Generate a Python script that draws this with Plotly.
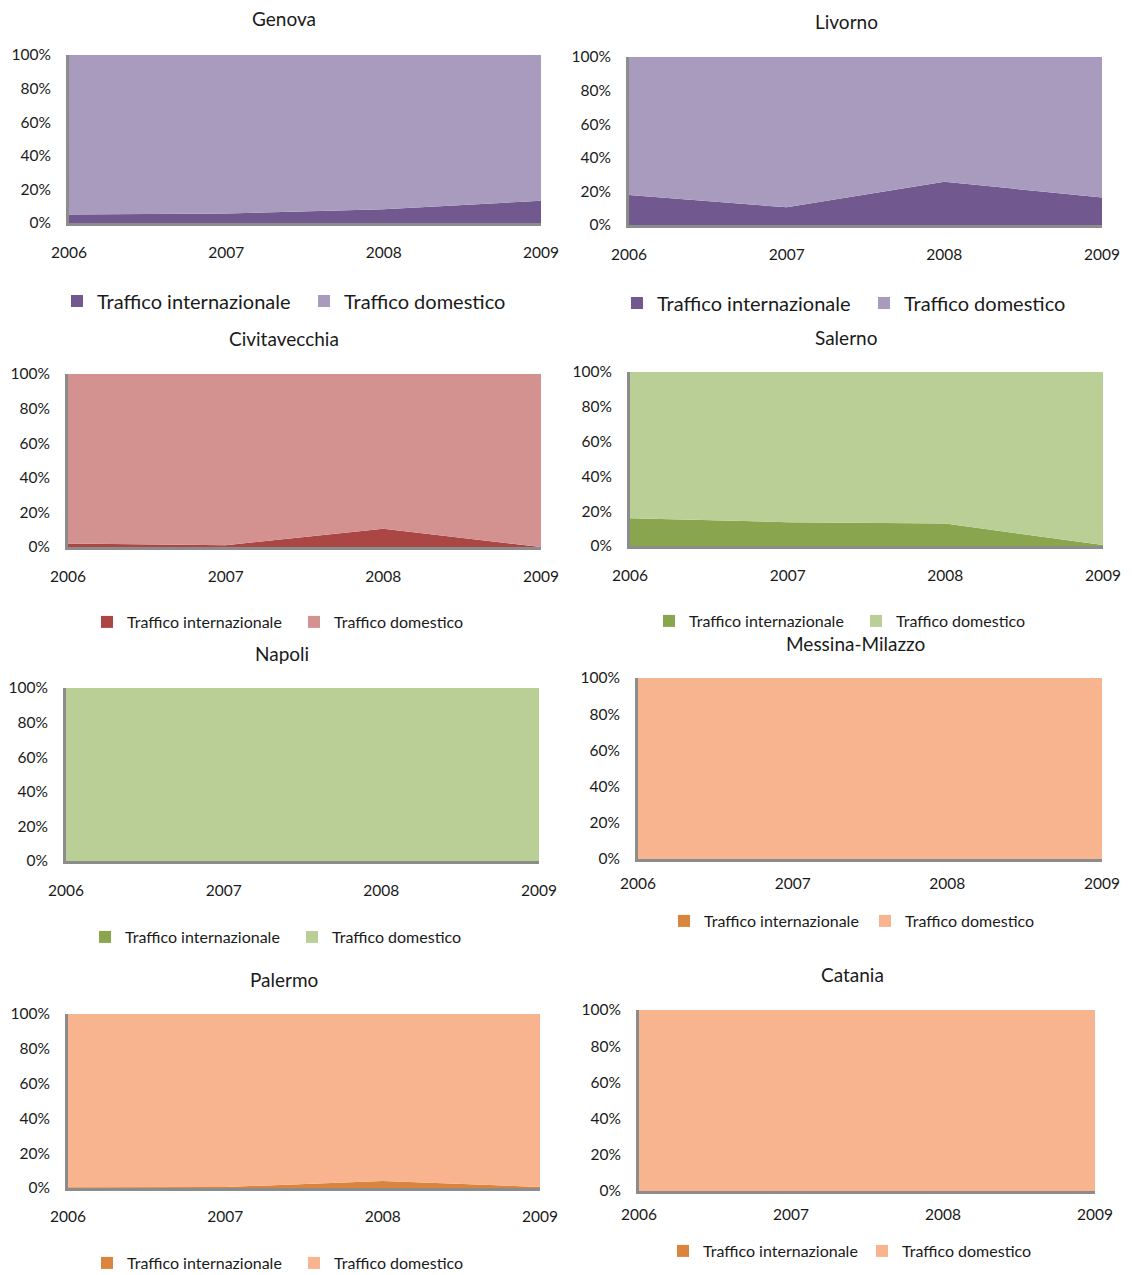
import plotly.graph_objects as go

# ---------------- data ----------------
years = [2006, 2007, 2008, 2009]
series_names = ["Traffico internazionale", "Traffico domestico"]
ports = ["Genova", "Livorno", "Civitavecchia", "Salerno",
         "Napoli", "Messina-Milazzo", "Palermo", "Catania"]

genova_int = [5.0, 5.6, 8.2, 13.2]
genova_dom = [95.0, 94.4, 91.8, 86.8]
livorno_int = [17.9, 10.5, 25.7, 16.4]
livorno_dom = [82.1, 89.5, 74.3, 83.6]
civitavecchia_int = [2.0, 1.0, 10.6, 0.0]
civitavecchia_dom = [98.0, 99.0, 89.4, 100.0]
salerno_int = [15.9, 13.7, 12.9, 0.6]
salerno_dom = [84.1, 86.3, 87.1, 99.4]
napoli_int = [0.0, 0.0, 0.0, 0.0]
napoli_dom = [100.0, 100.0, 100.0, 100.0]
messina_int = [0.0, 0.0, 0.0, 0.0]
messina_dom = [100.0, 100.0, 100.0, 100.0]
palermo_int = [0.4, 0.6, 4.0, 0.6]
palermo_dom = [99.6, 99.4, 96.0, 99.4]
catania_int = [0.0, 0.0, 0.0, 0.0]
catania_dom = [100.0, 100.0, 100.0, 100.0]

y_tick_values = [0, 20, 40, 60, 80, 100]
y_tick_labels = ["0%", "20%", "40%", "60%", "80%", "100%"]

data_int = [genova_int, livorno_int, civitavecchia_int, salerno_int,
            napoli_int, messina_int, palermo_int, catania_int]
data_dom = [genova_dom, livorno_dom, civitavecchia_dom, salerno_dom,
            napoli_dom, messina_dom, palermo_dom, catania_dom]

# ---------------- styles / layout ----------------
W, H = 1132, 1275
purple = ("#71588F", "#A99BBD")
red = ("#AA4643", "#D39190")
green = ("#89A54E", "#BACF96")
orange = ("#DB843D", "#F8B48F")
palette = [purple, purple, red, green, green, orange, orange, orange]

# plot box (x0, x1, y_top, y_bottom), title centre, x-label centre y,
# legend: first swatch centre x, centre y, swatch spacing, font size
panels = [
    dict(box=(69, 541, 55, 223), title=(284, 19), xl=252, leg=(77, 301, 247), lf=20),
    dict(box=(629, 1102, 57, 225), title=(846, 21), xl=254, leg=(637, 303, 247), lf=20),
    dict(box=(68, 541, 374, 547), title=(284, 338), xl=576, leg=(107, 622, 207), lf=16),
    dict(box=(630, 1103, 372, 546), title=(846, 337), xl=575, leg=(669, 621, 207), lf=16),
    dict(box=(66, 539, 688, 861), title=(282, 653), xl=890, leg=(105, 937, 207), lf=16),
    dict(box=(638, 1102, 678, 859), title=(855, 643), xl=883, leg=(684, 921, 201), lf=16),
    dict(box=(68, 540, 1014, 1188), title=(284, 979), xl=1216, leg=(107, 1263, 207), lf=16),
    dict(box=(639, 1095, 1010, 1191), title=(852, 975), xl=1214, leg=(683, 1251, 199), lf=16),
]

FONT = "Lato"
TEXT = "#1a1a1a"
AXIS = "#8C8C8C"

fig = go.Figure()
annotations = []
layout_upd = {}

for i, (port, p) in enumerate(zip(ports, panels)):
    n = i + 1
    xa = "x" if n == 1 else f"x{n}"
    ya = "y" if n == 1 else f"y{n}"
    leg = "legend" if n == 1 else f"legend{n}"
    c_int, c_dom = palette[i]
    lx, ly, lsp = p["leg"]
    for name, vals, col in ((series_names[0], data_int[i], c_int),
                            (series_names[1], data_dom[i], c_dom)):
        fig.add_trace(go.Scatter(
            x=years, y=vals, xaxis=xa, yaxis=ya, mode="lines",
            line=dict(width=0, color=col), fillcolor=col,
            stackgroup=f"s{n}", showlegend=False, hoverinfo="skip",
            legend=leg))
        # legend swatch
        fig.add_trace(go.Scatter(
            x=[None], y=[None], xaxis=xa, yaxis=ya, mode="markers",
            marker=dict(symbol="square", size=12, color=col),
            name=name, legend=leg, showlegend=True,
            legendwidth=lsp - 45))

    x0, x1, y0, y1 = p["box"]
    xk = "xaxis" if n == 1 else f"xaxis{n}"
    yk = "yaxis" if n == 1 else f"yaxis{n}"
    standoff = p["xl"] - y1 - 16
    layout_upd[xk] = dict(
        domain=[x0 / W, x1 / W], anchor=ya, range=[years[0], years[-1]],
        tickmode="array", tickvals=years, ticktext=[str(v) for v in years],
        showgrid=False, zeroline=False, showline=True, linecolor=AXIS, linewidth=3,
        ticks="", ticklabelstandoff=standoff, automargin=False,
        tickfont=dict(family=FONT, size=15.5, color=TEXT), fixedrange=True)
    layout_upd[yk] = dict(
        domain=[1 - y1 / H, 1 - y0 / H], anchor=xa, range=[0, 100],
        tickmode="array", tickvals=y_tick_values, ticktext=y_tick_labels,
        showgrid=False, zeroline=False, showline=True, linecolor=AXIS, linewidth=3,
        ticks="", ticklabelstandoff=12, automargin=False,
        tickfont=dict(family=FONT, size=15.5, color=TEXT), fixedrange=True)
    layout_upd[leg] = dict(
        orientation="h", x=(lx - 20) / W, y=1 - ly / H,
        xanchor="left", yanchor="middle", xref="paper", yref="paper",
        font=dict(family=FONT, size=p["lf"], color=TEXT),
        itemwidth=30, traceorder="normal", bgcolor="rgba(0,0,0,0)",
        borderwidth=0, itemclick=False, itemdoubleclick=False)
    annotations.append(dict(
        text=port, x=p["title"][0] / W, y=1 - p["title"][1] / H,
        xref="paper", yref="paper", xanchor="center", yanchor="middle",
        showarrow=False, font=dict(family=FONT, size=19, color=TEXT)))

fig.update_layout(
    width=W, height=H,
    margin=dict(l=0, r=0, t=0, b=0, pad=0, autoexpand=False),
    paper_bgcolor="white", plot_bgcolor="white",
    annotations=annotations, hovermode=False,
    **layout_upd)

fig.write_html("out.html", config=dict(displayModeBar=False))
